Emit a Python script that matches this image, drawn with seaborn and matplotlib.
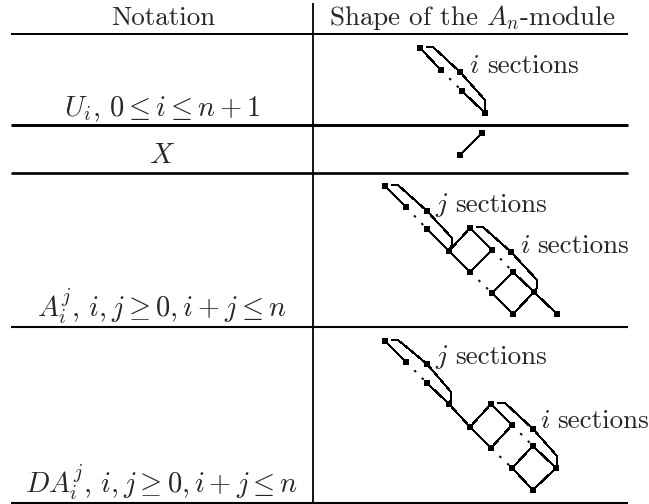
import pandas as pd
import matplotlib
matplotlib.use('Agg')
import matplotlib.pyplot as plt
import seaborn as sns

notations = [r'$U_i,\, 0 \leq i \leq n+1$', r'$X$',
             r'$A_i^j,\, i,j \geq 0, i+j \leq n$', r'$DA_i^j,\, i,j \geq 0, i+j \leq n$']
notation_y = [116, 163, 317, 493]
section_labels = [(r'$i$', 469, 73, 18), (r'$j$', 435, 212, 20),
                  (r'$i$', 520, 253, 17), (r'$j$', 435, 364, 20),
                  (r'$i$', 540, 428, 17)]

# vertices of each diagram, picture pixels
u_nodes_x = [420, 441, 460, 462, 485]
u_nodes_y = [48, 70, 72, 91, 113]
x_nodes_x = [482, 460]
x_nodes_y = [133, 155]
a_nodes_x = [385, 406, 427, 427, 449, 470, 492, 470, 492, 513, 511, 534, 557, 513]
a_nodes_y = [186, 207, 211, 229, 251, 228, 250, 272, 293, 272, 252, 292, 314, 314]
da_nodes_x = [385, 406, 427, 427, 449, 470, 491, 512, 533, 533, 556, 491, 512, 533]
da_nodes_y = [341, 362, 364, 383, 404, 427, 404, 425, 446, 429, 468, 448, 468, 490]

# polylines: style, x list, y list
edges = [
    ('s', [420, 441], [48, 70]), ('d', [441, 462], [70, 91]), ('s', [462, 485], [91, 113]),
    ('s', [427, 433, 460, 485, 485, 485], [47, 47, 72, 100, 108, 113]),
    ('s', [482, 460], [133, 155]),
    # A
    ('s', [385, 406], [186, 207]), ('d', [406, 427], [207, 229]), ('s', [427, 449], [229, 251]),
    ('s', [392, 398, 427, 452, 452, 449], [185, 185, 211, 238, 245, 251]),
    ('s', [449, 470, 492, 470, 449], [251, 228, 250, 272, 251]),
    ('s', [477, 483, 511, 537, 537, 534], [227, 227, 252, 280, 288, 292]),
    ('d', [492, 513], [250, 272]), ('d', [470, 492], [272, 293]),
    ('s', [513, 534, 557], [272, 292, 314]),
    ('s', [492, 513, 534, 513, 492], [293, 272, 292, 314, 293]),
    # DA
    ('s', [385, 406], [341, 362]), ('d', [406, 427], [362, 383]), ('s', [427, 449], [383, 404]),
    ('s', [392, 398, 427, 451, 451, 449], [340, 340, 364, 392, 400, 404]),
    ('s', [449, 470, 491, 512, 491, 470], [404, 427, 404, 425, 448, 427]),
    ('s', [498, 505, 533, 557, 557, 556], [403, 403, 429, 456, 462, 468]),
    ('d', [512, 533], [425, 446]), ('d', [491, 512], [448, 468]),
    ('s', [533, 556, 533, 512, 533], [446, 468, 490, 468, 446]),
]

rows = []
for k, (style, xs, ys) in enumerate(edges):
    for order, (x, y) in enumerate(zip(xs, ys)):
        rows.append({'edge': k, 'order': order, 'x': x, 'y': y, 'style': style})
edge_df = pd.DataFrame(rows)
node_df = pd.DataFrame({'x': u_nodes_x + x_nodes_x + a_nodes_x + da_nodes_x,
                        'y': u_nodes_y + x_nodes_y + a_nodes_y + da_nodes_y})

sns.set_theme(style='white', rc={'mathtext.fontset': 'cm'})
plt.rcParams['font.family'] = ['cmr10', 'DejaVu Serif']
plt.rcParams['axes.unicode_minus'] = False

fig = plt.figure(figsize=(6.49, 5.04), dpi=100)
ax = fig.add_axes([0, 0, 1, 1])

solid = edge_df[edge_df['style'] == 's']
dotted = edge_df[edge_df['style'] == 'd']
sns.lineplot(data=solid, x='x', y='y', units='edge', estimator=None, sort=False,
             color='black', linewidth=0.7, antialiased=False, ax=ax)
sns.lineplot(data=dotted, x='x', y='y', units='edge', estimator=None, sort=False,
             color='black', linewidth=1.4, linestyle=(5, (1.3, 4.2)), ax=ax)
sns.scatterplot(data=node_df, x='x', y='y', marker='s', s=16, color='black',
                linewidth=0, ax=ax)

ax.set_xlim(0, 649)
ax.set_ylim(504, 0)
ax.axis('off')

# table rules
for y, w in [(34, 1.4), (125, 2.1), (173, 1.9), (327, 1.5), (503, 1.5)]:
    ax.plot([11, 628], [y, y], color='black', lw=w, solid_capstyle='butt')
ax.plot([313, 313], [3, 503], color='black', lw=1.3, solid_capstyle='butt')

ax.text(163, 25, 'Notation', fontsize=19.5, ha='center', va='baseline')
ax.text(472, 25, 'Shape of the $A_n$-module', fontsize=19.5, ha='center', va='baseline')
for label, y in zip(notations, notation_y):
    ax.text(162, y, label, fontsize=20.5, ha='center', va='baseline')
for sym, x, y, gap in section_labels:
    ax.text(x, y, sym, fontsize=20, ha='left', va='baseline')
    ax.text(x + gap, y, 'sections', fontsize=19.5, ha='left', va='baseline')

fig.savefig('out.png', dpi=100)
plt.close()
